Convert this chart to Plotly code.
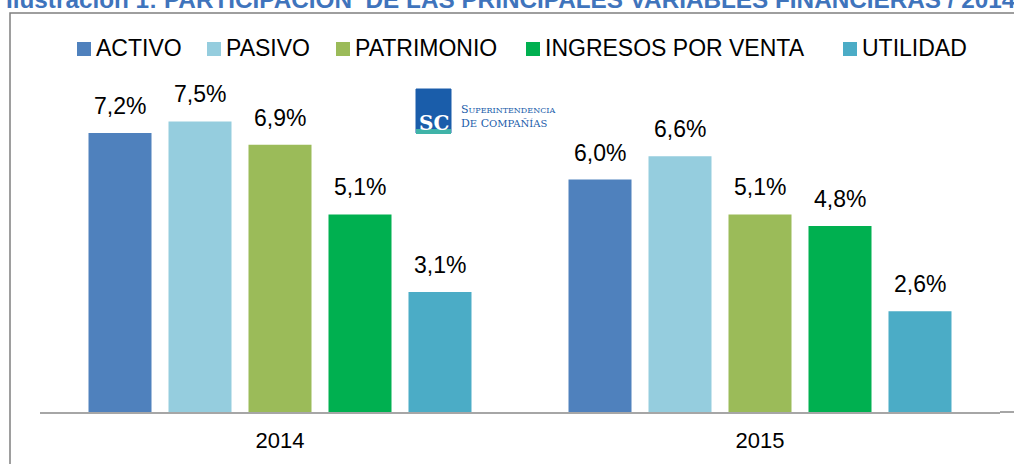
import plotly.graph_objects as go

years = ["2014", "2015"]
series_names = ["ACTIVO", "PASIVO", "PATRIMONIO", "INGRESOS POR VENTA", "UTILIDAD"]
activo = [7.2, 6.0]
pasivo = [7.5, 6.6]
patrimonio = [6.9, 5.1]
ingresos = [5.1, 4.8]
utilidad = [3.1, 2.6]
colors = ["#4F81BD", "#95CDDE", "#9BBB59", "#00B050", "#4BACC6"]

values = [activo, pasivo, patrimonio, ingresos, utilidad]

W, H = 1014, 464
L, R, T, B = 40, 14, 102, 52
PW, PH = W - L - R, H - T - B


def px(x):
    return (x - L) / PW


def py(y):
    return (H - B - y) / PH


FONT = "Liberation Sans, Arial"

fig = go.Figure()
for name, vals, col in zip(series_names, values, colors):
    fig.add_trace(go.Bar(
        x=years, y=vals, name=name, marker=dict(color=col, line=dict(width=0)),
        showlegend=False, hoverinfo="x+y+name",
    ))

# data labels above each bar (x given as category index)
slot = PW / len(years) * (1 - 0.1667) / len(series_names)
for i, (vals, name) in enumerate(zip(values, series_names)):
    for j, v in enumerate(vals):
        fig.add_annotation(x=j, y=v, xref="x", yref="y", showarrow=False,
                           xshift=(i - 2) * slot, yshift=12, yanchor="bottom",
                           text=f"{v:.1f}%".replace(".", ","),
                           font=dict(size=23, color="#000000", family=FONT))

fig.update_layout(
    width=W, height=H,
    margin=dict(l=L, r=R, t=T, b=B, autoexpand=False),
    paper_bgcolor="white", plot_bgcolor="white",
    barmode="group", bargap=0.1667, bargroupgap=0.2125,
    font=dict(family=FONT, size=22, color="#000000"),
    showlegend=False,
    xaxis=dict(type="category", range=[-0.5, len(years) - 0.5], showline=True,
               linecolor="#A6A6A6", linewidth=2, ticks="",
               tickfont=dict(size=22), showgrid=False, ticklabelstandoff=8),
    yaxis=dict(range=[0, 8], visible=False, showgrid=False),
)

# extend axis line to right edge
fig.add_shape(type="line", xref="paper", yref="paper", x0=1, x1=px(1016), y0=0, y1=0,
              line=dict(color="#A6A6A6", width=2))

# manual legend
leg_sq = [77, 207, 336, 526, 843]
for name, col, sx in zip(series_names, colors, leg_sq):
    fig.add_shape(type="rect", xref="paper", yref="paper",
                  x0=px(sx), x1=px(sx + 14), y0=py(56), y1=py(42),
                  line=dict(width=0), fillcolor=col)
    fig.add_annotation(xref="paper", yref="paper", x=px(sx + 17), xanchor="left",
                       y=py(48), yanchor="middle", showarrow=False, text=name,
                       font=dict(size=23, color="#000000", family=FONT))

# outer frame
fig.add_shape(type="rect", xref="paper", yref="paper",
              x0=px(10), x1=px(1030), y0=py(480), y1=py(13),
              line=dict(color="#7F7F7F", width=1.5), fillcolor="rgba(0,0,0,0)")

# clipped title
fig.add_annotation(xref="paper", yref="paper", x=px(4), xanchor="left",
                   y=py(0), yanchor="middle", showarrow=False,
                   text="<b>Ilustración 1: PARTICIPACIÓN  DE LAS PRINCIPALES VARIABLES FINANCIERAS / 2014 - 2015</b>",
                   font=dict(size=24.3, color="#3F74BC", family=FONT))

# logo approximation
fig.add_shape(type="rect", xref="paper", yref="paper",
              x0=px(416), x1=px(451), y0=py(133), y1=py(89),
              line=dict(color="#1A5DAA", width=1), fillcolor="#1A5DAA")
fig.add_shape(type="rect", xref="paper", yref="paper",
              x0=px(416), x1=px(451), y0=py(134), y1=py(129),
              line=dict(width=0), fillcolor="#3FB3A8")
fig.add_annotation(xref="paper", yref="paper", x=px(433.5), y=py(109),
                   showarrow=False, text="<b>SC</b>",
                   font=dict(size=20, color="white", family="DejaVu Serif"))
fig.add_annotation(xref="paper", yref="paper", x=px(459), xanchor="left",
                   y=py(117), yanchor="middle", showarrow=False, align="left",
                   text="S<span style='font-size:8px'>UPERINTENDENCIA</span><br>D<span style='font-size:10px'>E</span> C<span style='font-size:10px'>OMPAÑÍAS</span>",
                   font=dict(size=11, color="#1A5DAA", family="DejaVu Serif"))

fig.write_html("out.html", config={"displayModeBar": False},
               post_script="document.body.style.margin='0';document.body.style.overflow='hidden';")
